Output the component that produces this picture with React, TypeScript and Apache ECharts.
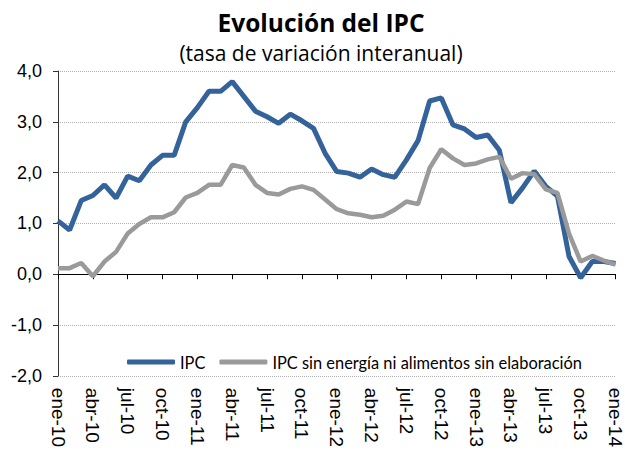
import React, { useEffect, useRef } from "react";
import * as echarts from "echarts";

const monthNames = ["ene", "feb", "mar", "abr", "may", "jun", "jul", "ago", "sep", "oct", "nov", "dic"];
const years = ["10", "11", "12", "13", "14"];
const months: string[] = [];
for (const y of years) {
  for (const m of monthNames) {
    if (months.length < 49) months.push(`${m}-${y}`);
  }
}

const ipc = [
  1.05, 0.87, 1.45, 1.55, 1.76, 1.5, 1.93, 1.84, 2.15, 2.34, 2.34, 3.0,
  3.28, 3.6, 3.6, 3.79, 3.5, 3.21, 3.1, 2.97, 3.15, 3.02, 2.87, 2.38,
  2.02, 1.99, 1.91, 2.07, 1.96, 1.91, 2.25, 2.63, 3.41, 3.47, 2.94, 2.86,
  2.69, 2.74, 2.44, 1.41, 1.7, 2.03, 1.73, 1.54, 0.35, -0.07, 0.25, 0.25,
  0.21,
];

const ipcSub = [
  0.12, 0.12, 0.22, -0.04, 0.25, 0.44, 0.8, 0.99, 1.12, 1.12, 1.22, 1.51,
  1.6, 1.76, 1.76, 2.15, 2.1, 1.76, 1.6, 1.57, 1.68, 1.73, 1.66, 1.47,
  1.28, 1.2, 1.17, 1.12, 1.15, 1.27, 1.43, 1.38, 2.09, 2.46, 2.28, 2.15,
  2.18, 2.26, 2.31, 1.88, 1.99, 1.97, 1.67, 1.6, 0.8, 0.25, 0.36, 0.27,
  0.19,
];

const seriesNames = ["IPC", "IPC sin energía ni alimentos sin elaboración"];
const titleText = "Evolución del IPC";
const subtitleText = "(tasa de variación interanual)";

const ARIAL = "'Liberation Sans', Arial, sans-serif";

export default function App() {
  const ref = useRef<HTMLDivElement>(null);
  useEffect(() => {
    if (!ref.current) return;
    const chart = echarts.init(ref.current, undefined, { renderer: "svg" });
    chart.setOption({
      animation: false,
      backgroundColor: "#ffffff",
      title: [
        {
          text: titleText,
          left: 316,
          textAlign: "center",
          top: 5,
          textStyle: { fontFamily: "'Open Sans'", fontSize: 24.5, fontWeight: "bold", color: "#000" },
        },
        {
          text: subtitleText,
          left: 316,
          textAlign: "center",
          top: 37,
          textStyle: { fontFamily: "'Open Sans'", fontSize: 21, fontWeight: "normal", color: "#000" },
        },
      ],
      legend: {
        left: 127,
        top: 354,
        padding: 0,
        icon: "roundRect",
        itemWidth: 48,
        itemHeight: 5,
        itemGap: 14,
        textStyle: { fontFamily: "Lato", fontSize: 16.4, color: "#000" },
        data: seriesNames,
      },
      grid: { left: 58, right: 3, top: 71, bottom: 69, containLabel: false },
      xAxis: [
        {
          type: "category",
          data: months,
          boundaryGap: false,
          position: "bottom",
          axisLine: { onZero: true, lineStyle: { color: "#000", width: 1 } },
          axisTick: { interval: 2, length: 5, lineStyle: { color: "#000" } },
          axisLabel: { show: false },
          splitLine: { show: false },
        },
        {
          type: "category",
          data: months,
          boundaryGap: false,
          position: "bottom",
          axisLine: { show: false, onZero: false },
          axisTick: { show: false },
          axisLabel: {
            interval: 2,
            rotate: -90,
            margin: 12,
            fontFamily: ARIAL,
            fontSize: 19,
            color: "#000",
          },
          splitLine: { show: false },
        },
      ],
      yAxis: {
        type: "value",
        min: -2,
        max: 4,
        interval: 1,
        axisLine: { show: true, lineStyle: { color: "#333", width: 1 } },
        axisTick: { show: true, length: 5, lineStyle: { color: "#333" } },
        axisLabel: {
          margin: 16,
          fontFamily: ARIAL,
          fontSize: 18,
          color: "#000",
          formatter: (v: number) => v.toFixed(1).replace(".", ","),
        },
        splitLine: { show: true, lineStyle: { color: "#b0b0b0", type: "dotted", width: 1 } },
      },
      series: [
        {
          name: seriesNames[0],
          type: "line",
          data: ipc,
          xAxisIndex: 0,
          symbol: "none",
          color: "#34629a",
          lineStyle: { color: "#34629a", width: 5 },
        },
        {
          name: seriesNames[1],
          type: "line",
          data: ipcSub,
          xAxisIndex: 0,
          symbol: "none",
          color: "#9a9a9a",
          lineStyle: { color: "#9a9a9a", width: 4.5 },
        },
      ],
    });
    return () => chart.dispose();
  }, []);
  return (
    <div
      ref={ref}
      style={{ position: "fixed", left: 0, top: 0, width: 625, height: 450 }}
    />
  );
}
